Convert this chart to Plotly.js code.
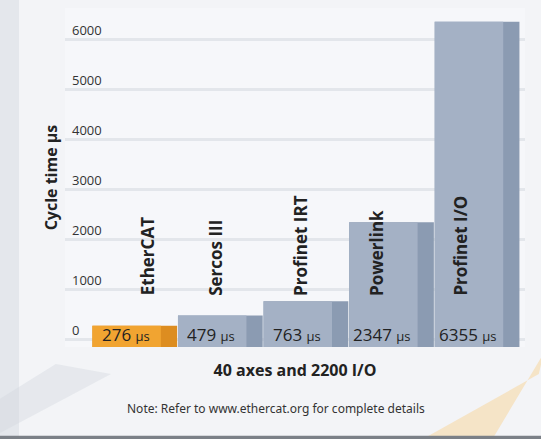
<!DOCTYPE html>
<html>
<head>
<meta charset="utf-8">
<script src="https://cdn.plot.ly/plotly-3.0.1.min.js"></script>
<style>
  html, body { margin: 0; padding: 0; background: #f3f4f7; }
  #chart { width: 541px; height: 439px; }
</style>
</head>
<body>
<div id="chart"></div>
<script>
// ---- data ----
const categories = ["EtherCAT", "Sercos III", "Profinet IRT", "Powerlink", "Profinet I/O"];
const cycleTimes = [276, 479, 763, 2347, 6355];
const unitLabel = "µs";
const yTickValues = [0, 1000, 2000, 3000, 4000, 5000, 6000];
const xTitle = "40 axes and 2200 I/O";
const yTitle = "Cycle time µs";
const noteText = "Note: Refer to www.ethercat.org for complete details";

// ---- style ----
const FOOT = -150; // bars drawn down to the floor of the plot (visual plinth)
const frontColors = categories.map((c, i) => i === 0 ? "#f1a431" : "#a4b1c5");
const sideColors  = categories.map((c, i) => i === 0 ? "#dd8d20" : "#8b9bb2");
const nameNudge = [13, -5, -6, -15, -17];
const font = "'Open Sans', 'Noto Sans', sans-serif";

const side = {
  type: "bar",
  x: categories,
  y: cycleTimes.map(v => v - FOOT),
  base: FOOT,
  width: 0.99,
  marker: { color: sideColors, line: { width: 0 } },
  hoverinfo: "skip",
  showlegend: false
};
const front = {
  type: "bar",
  x: categories,
  y: cycleTimes.map(v => v - FOOT),
  base: FOOT,
  width: 0.8,
  offset: -0.495,
  customdata: cycleTimes,
  hovertemplate: "%{x}: %{customdata} µs<extra></extra>",
  marker: { color: frontColors, line: { width: 0 } },
  showlegend: false
};

const annotations = [];
categories.forEach((c, i) => {
  annotations.push({
    x: c, y: 0, xref: "x", yref: "y",
    text: c, textangle: -90,
    xanchor: "center", yanchor: "bottom",
    xshift: nameNudge[i], yshift: 42,
    showarrow: false,
    font: { family: font, size: 17, color: "#222", weight: "bold" }
  });
  annotations.push({
    x: c, y: 0, xref: "x", yref: "y",
    text: cycleTimes[i] + " <span style='font-size:13px'>" + unitLabel + "</span>",
    xanchor: "center", yanchor: "middle",
    xshift: -9, yshift: 5,
    showarrow: false,
    font: { family: font, size: 17, color: "#222" }
  });
});
annotations.push({
  x: 0.459, y: -0.18, xref: "paper", yref: "paper",
  text: noteText, showarrow: false,
  xanchor: "center", yanchor: "middle",
  font: { family: "'Noto Sans', 'Open Sans', sans-serif", size: 12, color: "#333" }
});

const shapes = [
  // left strip
  { type: "rect", xref: "paper", yref: "paper", x0: -0.15, x1: -0.1, y0: -0.29, y1: 1.03,
    fillcolor: "#e4e7ec", line: { width: 0 }, layer: "below" },
  // bottom-left grey wedge
  { type: "path", xref: "paper", yref: "paper",
    path: "M -0.15 -0.16 L -0.02 -0.05 L 0.1 -0.08 L -0.15 -0.26 Z",
    fillcolor: "#d3d7de", opacity: 0.4, line: { width: 0 }, layer: "below" },
  // bottom-right orange swoosh
  { type: "path", xref: "paper", yref: "paper",
    path: "M 0.78 -0.27 L 1.03 -0.08 L 1.04 -0.02 L 0.93 -0.27 Z",
    fillcolor: "#f6d9a6", opacity: 0.6, line: { width: 0 }, layer: "below" },
  // bottom dark rim
  { type: "rect", xref: "paper", yref: "paper", x0: -0.15, x1: 1.05, y0: -0.275, y1: -0.262,
    fillcolor: "#7b8087", line: { width: 0 }, layer: "below" }
];

const layout = {
  width: 541, height: 439,
  margin: { l: 65, r: 16, t: 8, b: 92 },
  paper_bgcolor: "#f3f4f7",
  plot_bgcolor: "rgba(248,249,251,0.6)",
  barmode: "overlay",
  showlegend: false,
  xaxis: {
    type: "category",
    range: [-0.815, 4.56],
    showticklabels: false, ticks: "",
    showgrid: false, zeroline: false, showline: false,
    title: { text: xTitle, standoff: 17,
             font: { family: font, size: 16, color: "#222", weight: "bold" } }
  },
  yaxis: {
    range: [FOOT, 6630],
    tickvals: yTickValues,
    ticktext: yTickValues.map(String),
    ticklabelposition: "inside",
    ticklabelshift: -9,
    ticklabelstandoff: 4,
    ticks: "",
    tickfont: { family: font, size: 13, color: "#333" },
    showgrid: true, gridcolor: "#e3e6eb", gridwidth: 3,
    zeroline: false, showline: false,
    title: { text: yTitle, standoff: 10,
             font: { family: font, size: 16, color: "#222", weight: "bold" } }
  },
  annotations: annotations,
  shapes: shapes
};

Plotly.newPlot("chart", [side, front], layout, { displayModeBar: false, staticPlot: true });
</script>
</body>
</html>
